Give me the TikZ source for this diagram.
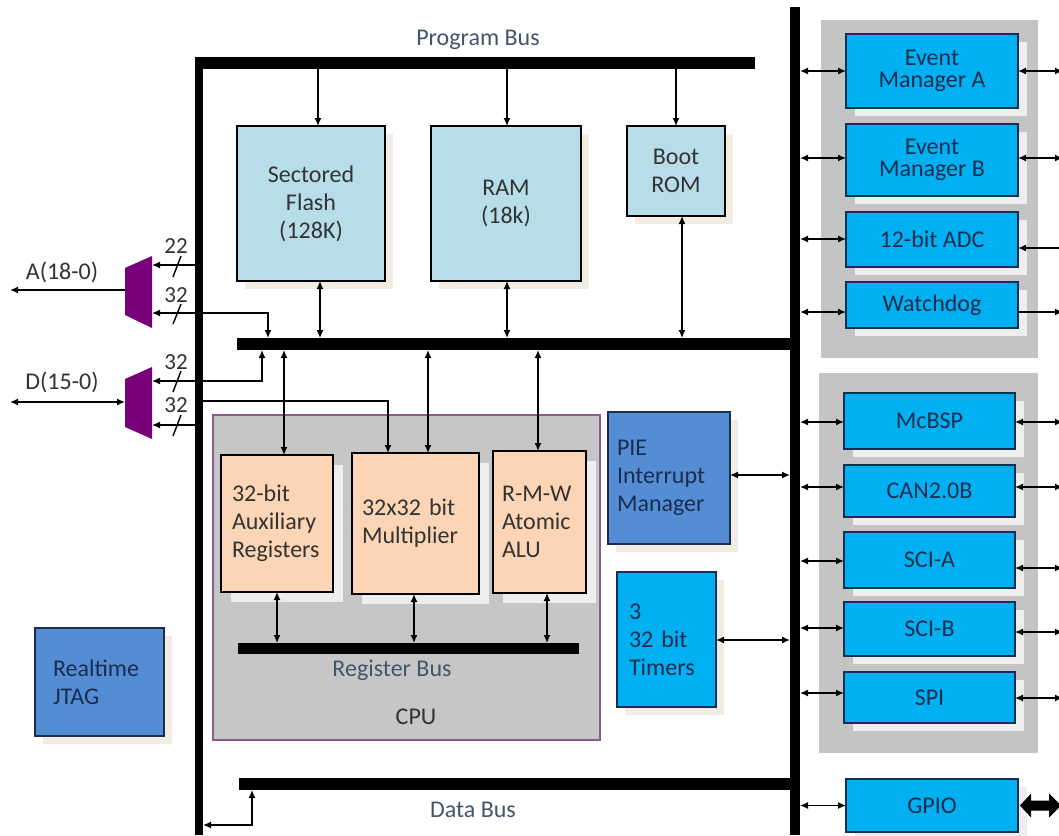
\documentclass[tikz,border=0pt]{standalone}
\usepackage{fontspec}
\setmainfont{Carlito}
\usetikzlibrary{arrows.meta,shadows}
\definecolor{memblue}{RGB}{183,221,232}
\definecolor{peach}{RGB}{251,213,181}
\definecolor{cpugray}{RGB}{198,198,198}
\definecolor{cpuborder}{RGB}{140,90,140}
\definecolor{midblue}{RGB}{84,141,212}
\definecolor{cyanblue}{RGB}{0,176,240}
\definecolor{grpgray}{RGB}{196,196,196}
\definecolor{muxpurple}{RGB}{120,0,120}
\definecolor{labeltext}{RGB}{68,84,106}
\definecolor{boxtext}{RGB}{25,45,80}
\definecolor{beigeshadow}{RGB}{242,236,226}
\definecolor{whiteshadow}{RGB}{238,238,238}
\begin{document}
\begin{tikzpicture}[x=1pt,y=-1pt,
  font=\fontsize{24}{28}\selectfont,
  bus/.style={fill=black, draw=none, inner sep=0pt, outer sep=0pt, anchor=north west},
  boxbase/.style={draw=black, line width=1.2pt, inner sep=0pt, outer sep=0pt},
  mem/.style={boxbase, fill=memblue, align=center, text=black!80,
     drop shadow={shadow xshift=8pt, shadow yshift=-8pt, fill=beigeshadow, opacity=1}},
  regbox/.style={boxbase, fill=peach, align=left, text=black!80,
     drop shadow={shadow xshift=10pt, shadow yshift=-10pt, fill=whiteshadow, opacity=1}},
  pbox/.style={boxbase, draw=boxtext, fill=cyanblue, align=center, text=boxtext,
     drop shadow={shadow xshift=9pt, shadow yshift=-8pt, fill=whiteshadow, opacity=1}},
  mbox/.style={boxbase, draw=boxtext, fill=midblue, align=left, text=boxtext,
     drop shadow={shadow xshift=8pt, shadow yshift=-8pt, fill=beigeshadow, opacity=1}},
  tbox/.style={boxbase, draw=boxtext, fill=cyanblue, align=left, text=boxtext,
     drop shadow={shadow xshift=8pt, shadow yshift=-8pt, fill=beigeshadow, opacity=1}},
  grp/.style={fill=grpgray, draw=none, inner sep=0pt},
  conn/.style={line width=1.4pt},
  arr/.style={conn, -{Latex[length=8pt,width=7pt]}},
  darr/.style={conn, {Latex[length=8pt,width=7pt]}-{Latex[length=8pt,width=7pt]}},
  larr/.style={conn, {Latex[length=8pt,width=7pt]}-},
  buslabel/.style={text=labeltext},
  widthlabel/.style={font=\fontsize{23}{23}\selectfont, text=black!80, inner sep=0pt},
]
\clip (0,0) rectangle (1059,835);
\fill[white] (0,0) rectangle (1059,835);

% ---------- buses ----------
\node[bus, minimum width=8pt,   minimum height=778pt] (lbus) at (195,57) {};
\node[bus, minimum width=560pt, minimum height=12pt]  (pbus) at (195,57) {};
\node[bus, minimum width=10pt,  minimum height=828pt] (rbus) at (790,7) {};
\node[bus, minimum width=563pt, minimum height=12pt]  (mbus) at (237,338) {};
\node[bus, minimum width=561pt, minimum height=12pt]  (dbus) at (239,778) {};

\node[buslabel] (pbuslbl) at (478,40) {Program Bus};
\node[buslabel] (dbuslbl) at (473,810) {Data Bus};

% ---------- memories ----------
\node[mem, minimum width=148pt, minimum height=155pt] (flash) at (311,203.5) {Sectored\\Flash\\(128K)};
\node[mem, minimum width=150pt, minimum height=155pt] (ram) at (506,203.5) {RAM\\(18k)};
\node[mem, minimum width=98pt, minimum height=90pt] (boot) at (676,171) {Boot\\ROM};

% ---------- CPU ----------
\node[draw=cpuborder, line width=1.2pt, fill=cpugray, minimum width=387pt, minimum height=325pt, inner sep=0pt] (cpu) at (406.5,577.5) {};
\node[regbox, minimum width=112pt, minimum height=137pt, text width=90pt, inner xsep=11pt] (aux) at (277,523.5) {32-bit\\Auxiliary\\Registers};
\node[regbox, minimum width=127pt, minimum height=141pt, text width=107pt, inner xsep=10pt] (mult) at (415.5,523.5) {32x32 bit\\Multiplier};
\node[regbox, minimum width=93pt, minimum height=142pt, text width=75pt, inner xsep=9pt] (alu) at (539.5,522) {R-M-W\\Atomic\\ALU};
\node[bus, minimum width=341pt, minimum height=11pt] (rgbus) at (238,643) {};
\node[buslabel] (rgbuslbl) at (392,670) {Register Bus};
\node[text=black!80] (cpulbl) at (416,717) {CPU};

% ---------- PIE, timers, JTAG ----------
\node[mbox, minimum width=122pt, minimum height=132pt, text width=104pt, inner xsep=9pt] (pie) at (669,478) {PIE\\Interrupt\\Manager};
\node[tbox, minimum width=99pt, minimum height=135pt, text width=75pt, inner xsep=12pt] (tim) at (666.5,639.5) {3\\32 bit\\Timers};
\node[mbox, minimum width=129pt, minimum height=108pt, text width=93pt, inner xsep=18pt] (jtag) at (99.5,682) {Realtime\\JTAG};

% ---------- peripheral groups ----------
\node[grp, minimum width=217pt, minimum height=338pt] (grp1) at (929.5,189) {};
\node[grp, minimum width=219pt, minimum height=380pt] (grp2) at (928.5,563) {};
\node[pbox, minimum width=172pt, minimum height=74pt] (ema) at (932,71) {Event\\[-6pt]Manager A};
\node[pbox, minimum width=172pt, minimum height=72pt] (emb) at (932,160) {Event\\[-6pt]Manager B};
\node[pbox, minimum width=172pt, minimum height=55pt] (adc) at (932,239.5) {12-bit ADC};
\node[pbox, minimum width=172pt, minimum height=46pt] (wd) at (932,305) {Watchdog};
\node[pbox, minimum width=171pt, minimum height=56pt] (mcbsp) at (929.5,421) {McBSP};
\node[pbox, minimum width=171pt, minimum height=52pt] (can) at (929.5,491) {CAN2.0B};
\node[pbox, minimum width=171pt, minimum height=56pt] (scia) at (929.5,560) {SCI-A};
\node[pbox, minimum width=171pt, minimum height=54pt] (scib) at (929.5,629) {SCI-B};
\node[pbox, minimum width=171pt, minimum height=51pt] (spi) at (929.5,697.5) {SPI};
\node[pbox, minimum width=172pt, minimum height=53pt] (gpio) at (932,805.5) {GPIO};

% ---------- muxes ----------
\fill[muxpurple] (152,256) -- (152,328) -- (125,315) -- (125,268) -- cycle;
\fill[muxpurple] (152,367) -- (152,439) -- (125,427) -- (125,379) -- cycle;
\coordinate (a22) at (152,265);
\coordinate (a32) at (152,313);
\coordinate (amuxL) at (125,290);
\coordinate (aout) at (10,290);
\coordinate (d32a) at (152,381);
\coordinate (d32b) at (152,425);
\coordinate (dmuxL) at (125,402);
\coordinate (dout) at (10,402);
\coordinate (ym) at (203,401);
\node[text=black!80] (albl) at (62,272) {A(18-0)};
\node[text=black!80] (dlbl) at (62,382) {D(15-0)};

% x positions of connectors
\coordinate (xF1) at (318,0);
\coordinate (xF2) at (320,0);
\coordinate (xR) at (507,0);
\coordinate (xB1) at (676,0);
\coordinate (xB2) at (682,0);
\coordinate (xA2) at (268,0);
\coordinate (xD1) at (262,0);
\coordinate (xM1) at (388,0);
\coordinate (xAux) at (284,0);
\coordinate (xMul) at (428,0);
\coordinate (xAlu) at (538,0);
\coordinate (xRA) at (277,0);
\coordinate (xRM) at (414,0);
\coordinate (xRL) at (547,0);
\coordinate (xDB) at (252,0);
\coordinate (yDB) at (0,825);
\coordinate (redge) at (1063,0);
% y positions of side connectors
\coordinate (yPie) at (0,475);
\coordinate (yTim) at (0,640);
\coordinate (yEA) at (0,71);
\coordinate (yEB) at (0,158);
\coordinate (yAD) at (0,239);
\coordinate (yAD2) at (0,248);
\coordinate (yWD) at (0,312);
\coordinate (yMc) at (0,422);
\coordinate (yCa) at (0,487);
\coordinate (ySA) at (0,561);
\coordinate (ySA2) at (0,568);
\coordinate (ySB) at (0,628);
\coordinate (ySB2) at (0,632);
\coordinate (ySP) at (0,693);
\coordinate (ySP2) at (0,698);

% ---------- program bus to memories ----------
\draw[arr] (pbus.south -| xF1) -- (flash.north -| xF1);
\draw[arr] (pbus.south -| xR) -- (ram.north -| xR);
\draw[arr] (pbus.south -| xB1) -- (boot.north -| xB1);
\draw[darr] (flash.south -| xF2) -- (mbus.north -| xF2);
\draw[darr] (ram.south -| xR) -- (mbus.north -| xR);
\draw[darr] (boot.south -| xB2) -- (mbus.north -| xB2);

% ---------- mux connections ----------
\draw[arr] (lbus.east |- a22) -- (a22);
\draw[darr] (a32) -- (a32 -| xA2) -- (mbus.north -| xA2);
\draw[darr] (d32a) -- (d32a -| xD1) -- (mbus.south -| xD1);
\draw[arr] (lbus.center |- d32b) -- (d32b);
\draw[arr] (lbus.east |- ym) -- (ym -| xM1) -- (mult.north -| xM1);
\draw[arr] (amuxL) -- (aout);
\draw[darr] (dout) -- (dmuxL);
\node[widthlabel] (w1) at (176,246) {22};
\node[widthlabel] (w2) at (176,295) {32};
\node[widthlabel] (w3) at (176,362) {32};
\node[widthlabel] (w4) at (176,405) {32};
\draw[conn] (173,277) -- (181,256);
\draw[conn] (173,324) -- (181,304);
\draw[conn] (173,392) -- (181,371);
\draw[conn] (173,436) -- (181,415);

% ---------- middle bus to CPU ----------
\draw[darr] (mbus.south -| xAux) -- (aux.north -| xAux);
\draw[darr] (mbus.south -| xMul) -- (mult.north -| xMul);
\draw[darr] (mbus.south -| xAlu) -- (alu.north -| xAlu);
\draw[darr] (aux.south -| xRA) -- (rgbus.north -| xRA);
\draw[darr] (mult.south -| xRM) -- (rgbus.north -| xRM);
\draw[darr] (alu.south -| xRL) -- (rgbus.north -| xRL);

% ---------- PIE, timers ----------
\draw[darr] (pie.east |- yPie) -- (rbus.west |- yPie);
\draw[darr] (tim.east |- yTim) -- (rbus.west |- yTim);

% ---------- data bus ----------
\draw[darr] (lbus.east |- yDB) -- (yDB -| xDB) -- (dbus.south -| xDB);

% ---------- right bus to peripherals ----------
\draw[darr] (rbus.east |- yEA) -- (ema.west |- yEA);
\draw[darr] (rbus.east |- yEB) -- (emb.west |- yEB);
\draw[darr] (rbus.east |- yAD) -- (adc.west |- yAD);
\draw[darr] (rbus.east |- yWD) -- (wd.west |- yWD);
\draw[darr] (rbus.east |- yMc) -- (mcbsp.west |- yMc);
\draw[darr] (rbus.east |- yCa) -- (can.west |- yCa);
\draw[darr] (rbus.east |- ySA) -- (scia.west |- ySA);
\draw[darr] (rbus.east |- ySB) -- (scib.west |- ySB);
\draw[darr] (rbus.east |- ySP) -- (spi.west |- ySP);
\draw[darr] (rbus.east |- gpio.west) -- (gpio.west);

% ---------- external connections ----------
\draw[darr] (ema.east |- yEA) -- (redge |- yEA);
\draw[darr] (emb.east |- yEB) -- (redge |- yEB);
\draw[larr] (adc.east |- yAD2) -- (redge |- yAD2);
\draw[arr] (wd.east |- yWD) -- (redge |- yWD);
\draw[darr] (mcbsp.east |- yMc) -- (redge |- yMc);
\draw[darr] (can.east |- yCa) -- (redge |- yCa);
\draw[darr] (scia.east |- ySA2) -- (redge |- ySA2);
\draw[darr] (scib.east |- ySB2) -- (redge |- ySB2);
\draw[darr] (spi.east |- ySP2) -- (redge |- ySP2);
\fill[black] (gpio.east) ++(2,0) -- ++(11,-12) -- ++(0,7) -- ++(18,0) -- ++(0,-7) -- ++(12,12)
   -- ++(-12,12) -- ++(0,-7) -- ++(-18,0) -- ++(0,7) -- cycle;
\end{tikzpicture}
\end{document}
